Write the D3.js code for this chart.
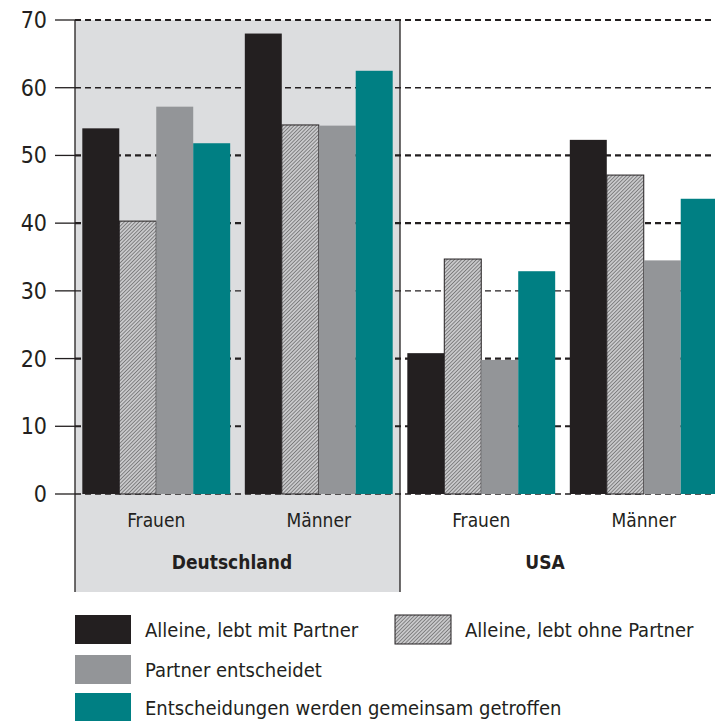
<!DOCTYPE html>
<html><head><meta charset="utf-8">
<script src="https://cdn.jsdelivr.net/npm/d3@7"></script>
<style>body{margin:0;background:#fff}text{font-family:"DejaVu Sans Condensed","Liberation Sans Narrow",sans-serif;fill:#231f20}</style>
</head><body>
<svg id="c" width="715" height="721"></svg>
<script>
const groups = ["DE-Frauen","DE-Männer","USA-Frauen","USA-Männer"];
const groupLabels = ["Frauen","Männer","Frauen","Männer"];
const series = ["Alleine, lebt mit Partner","Alleine, lebt ohne Partner","Partner entscheidet","Entscheidungen werden gemeinsam getroffen"];
const s1 = [54, 68, 20.8, 52.3];
const s2 = [40.3, 54.5, 34.7, 47.1];
const s3 = [57.2, 54.4, 19.8, 34.5];
const s4 = [51.8, 62.5, 32.9, 43.6];
const yTicks = [0,10,20,30,40,50,60,70];
const countries = ["Deutschland","USA"];

const svg = d3.select("#c");
const colors = ["#231f20","url(#hatch)","#939598","#007f83"];
const defs = svg.append("defs");
const pat = defs.append("pattern").attr("id","hatch").attr("patternUnits","userSpaceOnUse")
  .attr("width",2.6).attr("height",2.6).attr("patternTransform","rotate(45)");
pat.append("rect").attr("width",2.6).attr("height",2.6).attr("fill","#c9c9cb");
pat.append("line").attr("x1",0).attr("y1",0).attr("x2",0).attr("y2",2.6).attr("stroke","#4a4a4a").attr("stroke-width",1.1);

const y = d3.scaleLinear().domain([0,70]).range([494,20]);
const x0 = d3.scaleBand().domain(groups).range([75,725]).paddingInner(0.09).paddingOuter(0.045);
const x1 = d3.scaleBand().domain(d3.range(4)).range([0,x0.bandwidth()]);

// panel background
svg.append("rect").attr("x",75).attr("y",y(70)).attr("width",325).attr("height",592-y(70)).attr("fill","#dcdddf");

// gridlines
const thick = {70:2.2,60:1.4,50:2.2,40:2.2,30:1.4,20:2.2,10:2,0:1.4};
svg.append("g").selectAll("line").data(yTicks).join("line")
  .attr("x1",75).attr("x2",715).attr("y1",d=>y(d)).attr("y2",d=>y(d))
  .attr("stroke","#231f20").attr("stroke-width",d=>thick[d]).attr("stroke-dasharray","6,4");

// bars
const data = [s1,s2,s3,s4];
const g = svg.append("g");
groups.forEach((gr,gi)=>{
  data.forEach((s,si)=>{
    const r = g.append("rect").attr("x",x0(gr)+x1(si)).attr("width",x1.bandwidth())
      .attr("y",y(s[gi])).attr("height",y(0)-y(s[gi])).attr("fill",colors[si]);
    if(si===1) r.attr("stroke","#231f20").attr("stroke-width",1);
  });
});

// axis
const ax = svg.append("g");
ax.append("line").attr("x1",75).attr("x2",75).attr("y1",y(70)).attr("y2",592).attr("stroke","#231f20").attr("stroke-width",1.3);
ax.append("line").attr("x1",400).attr("x2",400).attr("y1",y(70)).attr("y2",592).attr("stroke","#231f20").attr("stroke-width",1.3);
ax.selectAll(".tk").data(yTicks).join("line").attr("x1",55).attr("x2",75).attr("y1",d=>y(d)).attr("y2",d=>y(d)).attr("stroke","#231f20").attr("stroke-width",1.3);
ax.selectAll(".tl").data(yTicks).join("text").attr("x",47).attr("y",d=>y(d)+8).attr("text-anchor","end")
  .attr("font-size",23).text(d=>d);

// group labels
svg.selectAll(".gl").data(groups).join("text").attr("x",d=>x0(d)+x0.bandwidth()/2).attr("y",527)
  .attr("text-anchor","middle").attr("font-size",19).text((d,i)=>groupLabels[i]);
svg.selectAll(".cl").data(countries).join("text").attr("x",(d,i)=>[232,545][i]).attr("y",569)
  .attr("text-anchor","middle").attr("font-size",19).attr("font-weight","bold").text(d=>d);

// legend
const leg = [[75,615,0],[395,615,1],[75,655,2],[75,693,3]];
leg.forEach(([lx,ly,si])=>{
  const r = svg.append("rect").attr("x",lx).attr("y",ly).attr("width",56).attr("height",29).attr("fill",colors[si]);
  if(si===1) r.attr("stroke","#231f20").attr("stroke-width",1);
  svg.append("text").attr("x",lx+70).attr("y",ly+22).attr("font-size",20).text(series[si]);
});
</script>
</body></html>
